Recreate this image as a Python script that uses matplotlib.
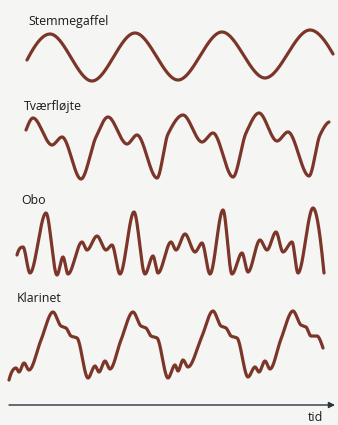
import numpy as np
import matplotlib
matplotlib.use("Agg")
import matplotlib.pyplot as plt

# ---------------- data ----------------
labels = ["Stemmegaffel", "Tværfløjte", "Obo", "Klarinet"]
time_label = "tid"

# key points of each waveform: time (x) and displacement (up = positive)
stemmegaffel_t = [27, 50, 92, 135, 178, 222, 265, 310, 333]
stemmegaffel_a = [-3, 23, -24, 24, -23, 25, -21, 27, 3]

tvaerfloejte_t = [26, 33, 52, 62, 81, 96, 108, 127, 137, 157, 168, 183,
                  202, 213, 233, 246, 259, 277, 288, 309, 320, 329]
tvaerfloejte_a = [16, 28, 1, 9, -33, 9, 29, 2, 11, -32, 12, 31,
                  4, 13, -31, 13, 33, 5, 14, -30, 11, 24]

obo_t = [17, 23, 30, 46, 57, 63, 68, 82, 87, 97, 106, 112, 120, 134, 145,
         153, 158, 171, 176, 185, 195, 202, 210, 223, 232, 242, 248, 260,
         267, 276, 283, 292, 298, 313, 324]
obo_a = [-12, -4, -30, 30, -32, -14, -31, 1, -7, 7, -7, -2, -31, 31, -31,
         -13, -30, 1, -7, 9, -9, 0, -31, 33, -31, -10, -29, 3,
         -7, 11, -9, 1, -30, 35, -30]

klarinet_t = [9, 16, 19, 24, 29, 41, 53, 61, 66, 71, 77, 88, 95, 99, 105,
              110, 121, 133, 141, 146, 151, 157, 168, 175, 178, 183, 188,
              201, 213, 221, 226, 231, 237, 248, 255, 259, 265, 270, 281,
              293, 301, 306, 311, 317, 323]
klarinet_a = [-35, -23, -27, -18, -25, 5, 33, 19, 17, 9, 7, -33, -21, -27, -16,
              -24, 5, 33, 19, 17, 9, 7, -33, -20, -26, -15, -22,
              6, 34, 19, 17, 9, 7, -32, -22, -27, -16, -24, 6,
              34, 20, 18, 9, 9, -3]

waves = [(stemmegaffel_t, stemmegaffel_a),
         (tvaerfloejte_t, tvaerfloejte_a),
         (obo_t, obo_a),
         (klarinet_t, klarinet_a)]

# ---------------- layout ----------------
W, H = 338, 425
row_centre = [57, 146, 243, 345]
label_pos = [(28, 25), (24, 110), (21, 204), (17, 302)]
wave_color = "#7b3629"
bg = "#f5f5f3"


def pchip(x, y, xs):
    """Monotone piecewise cubic curve through the key points."""
    x = np.asarray(x, float)
    y = np.asarray(y, float)
    h = np.diff(x)
    delta = np.diff(y) / h
    n = len(x)
    d = np.zeros(n)
    for k in range(1, n - 1):
        if delta[k - 1] * delta[k] > 0:
            w1 = 2 * h[k] + h[k - 1]
            w2 = h[k] + 2 * h[k - 1]
            d[k] = (w1 + w2) / (w1 / delta[k - 1] + w2 / delta[k])

    def end(h0, h1, d0, d1):
        s = ((2 * h0 + h1) * d0 - h0 * d1) / (h0 + h1)
        if np.sign(s) != np.sign(d0):
            s = 0.0
        elif np.sign(d0) != np.sign(d1) and abs(s) > abs(3 * d0):
            s = 3 * d0
        return s

    d[0] = end(h[0], h[1], delta[0], delta[1])
    d[-1] = end(h[-1], h[-2], delta[-1], delta[-2])
    idx = np.clip(np.searchsorted(x, xs) - 1, 0, n - 2)
    t = (xs - x[idx]) / h[idx]
    h00 = 2 * t**3 - 3 * t**2 + 1
    h10 = t**3 - 2 * t**2 + t
    h01 = -2 * t**3 + 3 * t**2
    h11 = t**3 - t**2
    return (h00 * y[idx] + h10 * h[idx] * d[idx]
            + h01 * y[idx + 1] + h11 * h[idx] * d[idx + 1])


fig = plt.figure(figsize=(W / 100, H / 100), dpi=100)
fig.patch.set_facecolor(bg)
ax = fig.add_axes([0, 0, 1, 1])
ax.set_facecolor(bg)
ax.set_xlim(0, W)
ax.set_ylim(H, 0)
ax.axis("off")

font = ["Open Sans", "DejaVu Sans"]

for (t, a), c, lab, (lx, ly) in zip(waves, row_centre, labels, label_pos):
    xs = np.linspace(t[0], t[-1], 1500)
    ys = pchip(t, a, xs)
    ax.plot(xs, c - ys, color=wave_color, lw=2.3,
            solid_capstyle="round", solid_joinstyle="round")
    ax.text(lx, ly, lab, fontsize=8.9, family=font, color="#1a1a1a",
            ha="left", va="baseline")

# time axis arrow
ax.annotate("", xy=(335, 405), xytext=(9, 405),
            arrowprops=dict(arrowstyle="-|>", color="#2a3340", lw=1.0,
                            mutation_scale=9, shrinkA=0, shrinkB=0))
ax.text(315, 421, time_label, fontsize=8.9, family=font, color="#1a1a1a",
        ha="center", va="baseline")

fig.savefig("out.png", dpi=100, facecolor=bg)
